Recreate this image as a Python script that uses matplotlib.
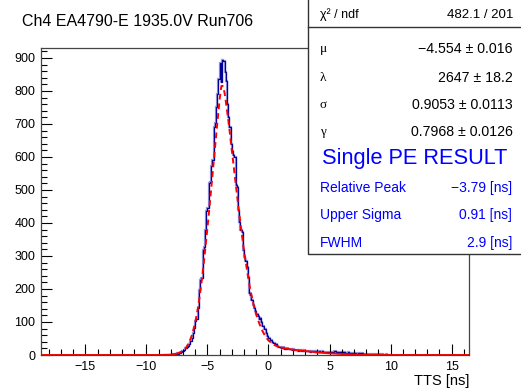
import numpy as np
import matplotlib
matplotlib.use("Agg")
import matplotlib.pyplot as plt
from matplotlib.ticker import MultipleLocator
from matplotlib.patches import Rectangle
from matplotlib.lines import Line2D

plt.rcParams['font.family'] = ['Liberation Sans', 'DejaVu Sans']

title = "Ch4 EA4790-E 1935.0V Run706"

# histogram: 0.1 ns bins starting at -8.0 ns
bin_start = -8.0
bin_width = 0.1
counts = [
    1, 2, 3, 2, 4, 5, 4, 7, 8, 11,                          # -8 .. -7
    13, 16, 20, 23, 28, 34, 41, 52, 66, 83,                 # -7 .. -6
    104, 110, 142, 196, 226, 232, 318, 326, 380, 437,       # -6 .. -5
    445, 520, 525, 572, 590, 690, 702, 752, 790, 835,       # -5 .. -4
    885, 828, 893, 890, 857, 830, 760, 722, 690, 640,       # -4 .. -3
    618, 605, 600, 515, 508, 440, 404, 378, 372, 318,       # -3 .. -2
    298, 285, 268, 236, 188, 182, 167, 150, 143, 133,       # -2 .. -1
    124, 118, 108, 112, 100, 88, 78, 80, 66, 58,            # -1 .. 0
    52, 46, 44, 38, 35, 30, 33, 27, 25, 24,                 # 0 .. 1
    22, 20, 23, 19, 18, 21, 17, 19, 18, 16,                 # 1 .. 2
    17, 15, 14, 16, 13, 15, 14, 12, 15, 13,                 # 2 .. 3
    12, 13, 11, 12, 10, 12, 11, 13, 10, 11,                 # 3 .. 4
    10, 11, 9, 10, 12, 9, 10, 8, 10, 9,                     # 4 .. 5
    9, 10, 8, 9, 11, 8, 9, 7, 9, 8,                         # 5 .. 6
    8, 7, 8, 6, 7, 8, 6, 7, 5, 6,                           # 6 .. 7
    6, 5, 4, 6, 5, 4, 5, 3, 4, 4,                           # 7 .. 8
    3, 4, 2, 3, 3, 2, 3, 2, 2, 3,                           # 8 .. 9
    2, 1, 2, 2, 1, 1, 2, 1, 1, 1,                           # 9 .. 10
]

# fit curve
fit_x = [-18.63, -9.0, -8.0, -7.5, -7.0, -6.75, -6.5, -6.25, -6.0, -5.75, -5.5,
         -5.25, -5.0, -4.75, -4.5, -4.25, -4.0, -3.9, -3.85, -3.75, -3.6, -3.5,
         -3.25, -3.0, -2.75, -2.5, -2.25, -2.0, -1.75, -1.5, -1.25, -1.0, -0.75,
         -0.5, -0.25, 0.0, 0.25, 0.5, 0.75, 1.0, 1.5, 2.0, 2.5, 3.0, 3.5, 4.0,
         5.0, 6.0, 7.0, 8.0, 10.0, 16.42]
fit_y = [0, 0, 1, 4, 12, 22, 38, 62, 98, 148, 215,
         295, 385, 480, 580, 680, 775, 805, 815, 815, 795, 770,
         700, 620, 540, 460, 385, 315, 255, 200, 157, 122, 95,
         73, 56, 44, 36, 30, 26, 23, 19, 16, 14, 12, 10, 8,
         5, 3, 1.5, 0.5, 0, 0]

stat_labels = ["\u03bc", "\u03bb", "\u03c3", "\u03b3"]
stat_values = ["\u22124.554 \u00b1 0.016", "2647 \u00b1 18.2",
               "0.9053 \u00b1 0.0113", "0.7968 \u00b1 0.0126"]
chi2_text = "482.1 / 201"
result_labels = ["Relative Peak", "Upper Sigma", "FWHM"]
result_values = ["\u22123.79 [ns]", "0.91 [ns]", "2.9 [ns]"]

W, H = 521, 392
fig = plt.figure(figsize=(W / 100, H / 100), dpi=100)
ax = fig.add_axes([41 / W, 1 - 355 / H, (469 - 41) / W, (355 - 48) / H])

edges = bin_start + bin_width * np.arange(len(counts) + 1)
ax.stairs(counts, edges, color='#9a9ae0', lw=1.6, baseline=None)
ax.stairs(counts, edges, color='#000099', lw=0.9, baseline=None)

fx = np.array(fit_x)
fy = np.array(fit_y)
core = (fx >= -7.5) & (fx <= 1.0)
ax.plot(fx[fx <= -7.5], fy[fx <= -7.5], color='red', lw=1.4, solid_capstyle='butt')
ax.plot(fx[fx >= 1.0], fy[fx >= 1.0], color='red', lw=1.4, solid_capstyle='butt')
ax.plot(fx[core], fy[core], color='red', lw=1.4, ls=(0, (3, 2)))

ax.set_xlim(-18.63, 16.42)
ax.set_ylim(0, 930)
ax.xaxis.set_major_locator(MultipleLocator(5))
ax.xaxis.set_minor_locator(MultipleLocator(1))
ax.yaxis.set_major_locator(MultipleLocator(100))
ax.yaxis.set_minor_locator(MultipleLocator(20))
ax.tick_params(which='both', direction='in', top=False, right=False,
               labelsize=9, colors='black', width=0.8)
ax.tick_params(which='major', length=8, pad=4)
ax.tick_params(which='minor', length=4)
for s in ax.spines.values():
    s.set_linewidth(0.9)
    s.set_color('#444444')

fig.text(469 / W, 1 - 381 / H, "TTS [ns]", ha='right', va='center', fontsize=10.5)
fig.text(22 / W, 1 - 21 / H, title, ha='left', va='center', fontsize=11.5)

# stats box
box = Rectangle((308 / W, 1 - 254 / H), 1.0, 1.0, transform=fig.transFigure,
                facecolor='white', edgecolor='#333333', lw=1.0, zorder=5)
fig.patches.append(box)
fig.add_artist(Line2D([308 / W, 1.0], [1 - 27 / H, 1 - 27 / H],
                      transform=fig.transFigure, color='#333333', lw=1.0, zorder=6))

xl, xr = 320 / W, 513 / W
fig.text(xl, 1 - 15 / H, "\u03c7\u00b2 / ndf", ha='left', va='center',
         fontsize=9, zorder=7)
fig.text(xr, 1 - 15 / H, chi2_text, ha='right', va='center', fontsize=9.5, zorder=7)
for lab, val, yy in zip(stat_labels, stat_values, [49, 78, 105, 132]):
    fig.text(xl, 1 - yy / H, lab, ha='left', va='center', fontsize=9.5,
             family=['Liberation Serif', 'DejaVu Serif'], zorder=7)
    fig.text(xr, 1 - yy / H, val, ha='right', va='center', fontsize=10.2, zorder=7)

fig.text(414.5 / W, 1 - 158 / H, "Single PE RESULT", ha='center', va='center',
         fontsize=15.7, color='#0000ff', zorder=7)
for lab, val, yy in zip(result_labels, result_values, [188, 215, 243]):
    fig.text(xl, 1 - yy / H, lab, ha='left', va='center', fontsize=10,
             color='#0000ff', zorder=7)
    fig.text(512 / W, 1 - yy / H, val, ha='right', va='center', fontsize=10,
             color='#0000ff', zorder=7)

fig.savefig("out.png", dpi=100)
